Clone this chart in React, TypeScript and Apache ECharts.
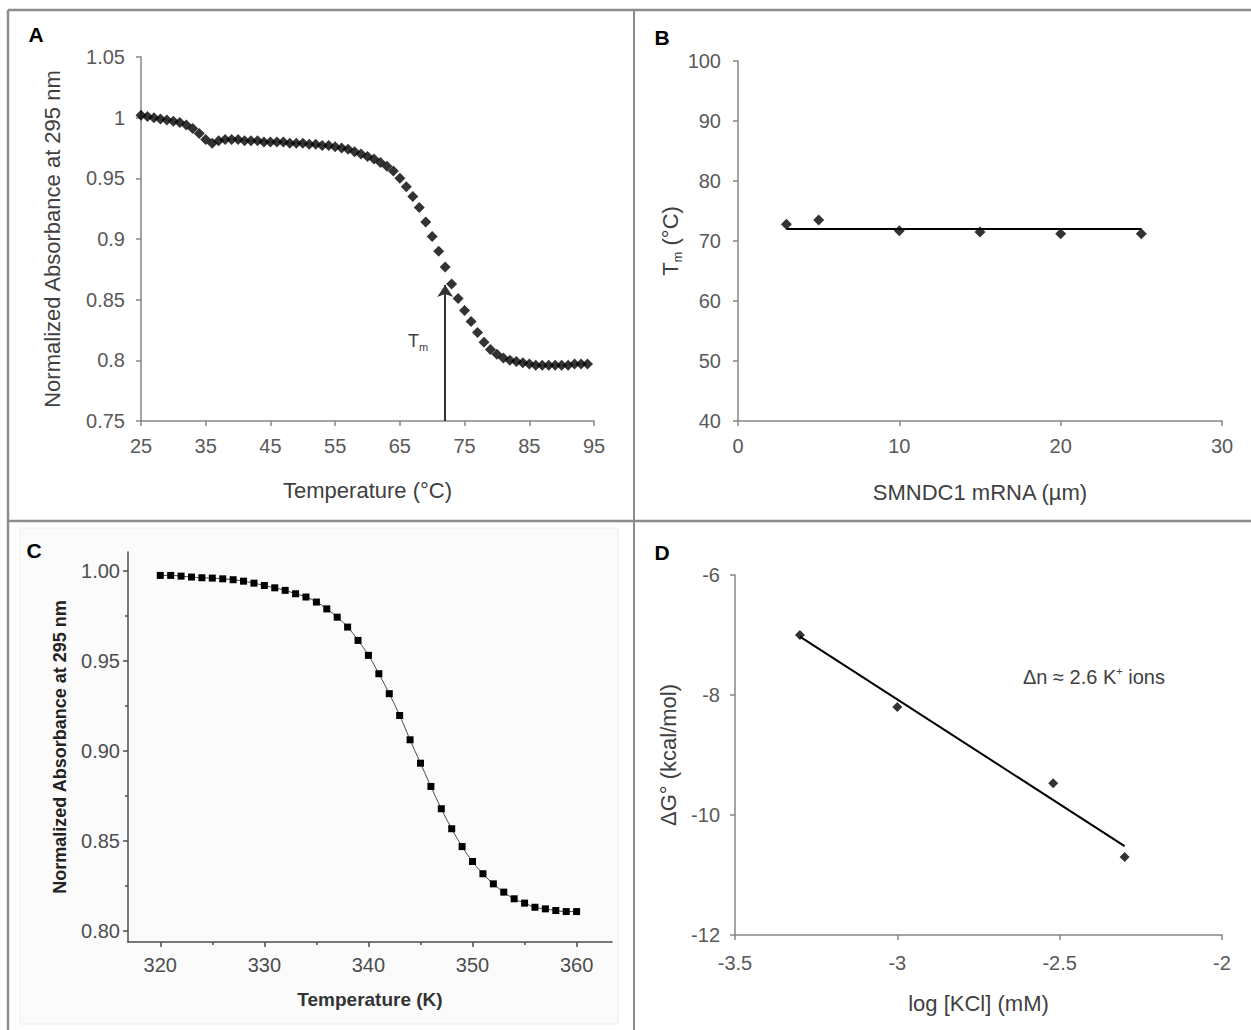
import React, { useEffect, useRef } from 'react';
import * as echarts from 'echarts';

const FONT = 'Arial, "Liberation Sans", Helvetica, sans-serif';

// ---- Panel A: melting curve (°C) ----
const tempA = [25,26,27,28,29,30,31,32,33,34,35,36,37,38,39,40,41,42,43,44,45,46,47,48,49,50,51,52,53,54,55,56,57,58,59,60,61,62,63,64,65,66,67,68,69,70,71,72,73,74,75,76,77,78,79,80,81,82,83,84,85,86,87,88,89,90,91,92,93,94];
const absA = [1.002,1.001,1.0,0.999,0.998,0.997,0.996,0.994,0.991,0.987,0.982,0.979,0.981,0.982,0.982,0.982,0.981,0.981,0.981,0.980,0.980,0.980,0.980,0.979,0.979,0.979,0.978,0.978,0.977,0.977,0.976,0.975,0.974,0.972,0.970,0.968,0.966,0.963,0.960,0.956,0.950,0.943,0.935,0.926,0.914,0.902,0.890,0.877,0.863,0.851,0.841,0.832,0.823,0.815,0.809,0.805,0.802,0.800,0.799,0.798,0.797,0.796,0.796,0.796,0.796,0.796,0.796,0.797,0.797,0.797];
const tmA = 72;
const tmArrowTip = 0.862;

// ---- Panel B: Tm vs mRNA concentration ----
const rnaConc = [3, 5, 10, 15, 20, 25];
const tmB = [72.8, 73.5, 71.7, 71.5, 71.2, 71.2];

// ---- Panel C: melting curve (K) ----
const tempC = [320,321,322,323,324,325,326,327,328,329,330,331,332,333,334,335,336,337,338,339,340,341,342,343,344,345,346,347,348,349,350,351,352,353,354,355,356,357,358,359,360];
const absC = [0.9976,0.9976,0.9972,0.9967,0.9963,0.9961,0.9957,0.9952,0.9944,0.9933,0.992,0.9907,0.9893,0.9874,0.9856,0.9828,0.979,0.9744,0.9689,0.9615,0.9532,0.943,0.9319,0.9198,0.9063,0.8933,0.8804,0.868,0.8569,0.847,0.8387,0.8319,0.8263,0.8217,0.818,0.8156,0.8133,0.8124,0.8115,0.8109,0.8109];
const cMajorX = [320, 330, 340, 350, 360];
const cMinorX = [325, 335, 345, 355];
const cMajorY = [0.8, 0.85, 0.9, 0.95, 1.0];
const cMinorY = [0.825, 0.875, 0.925, 0.975];

// ---- Panel D: ΔG° vs log[KCl] ----
const logKCl = [-3.3, -3.0, -2.52, -2.3];
const dG = [-7.0, -8.2, -9.47, -10.7];

function mean(a: number[]) { return a.reduce((s, v) => s + v, 0) / a.length; }

const excelLabel = { color: '#595959', fontSize: 20, fontFamily: FONT };
const excelLine = { show: true, onZero: false, lineStyle: { color: '#868686', width: 1.5 } };
const excelTick = { show: true, length: 5, lineStyle: { color: '#868686', width: 1.5 } };
const excelName = { color: '#404040', fontSize: 22, fontFamily: FONT };

export default function App() {
  const ref = useRef<HTMLDivElement>(null);
  useEffect(() => {
    if (!ref.current) return;
    const chart = echarts.init(ref.current, null, { renderer: 'svg' });

    const meanB = mean(tmB);
    const mx = mean(logKCl), my = mean(dG);
    let sxy = 0, sxx = 0;
    logKCl.forEach((x, i) => { sxy += (x - mx) * (dG[i] - my); sxx += (x - mx) * (x - mx); });
    const slope = sxy / sxx;
    const icpt = my - slope * mx;
    const xMinD = Math.min(...logKCl), xMaxD = Math.max(...logKCl);

    const fmt2 = (v: number) => String(parseFloat(v.toFixed(2)));

    const option: any = {
      animation: false,
      backgroundColor: '#ffffff',
      textStyle: { fontFamily: FONT },
      grid: [
        { left: 141, top: 57, width: 453, height: 364 },
        { left: 738, top: 61, width: 484, height: 360 },
        { left: 128, top: 552, width: 484, height: 390 },
        { left: 735, top: 575, width: 487, height: 360 },
      ],
      xAxis: [
        {
          gridIndex: 0, type: 'value', min: 25, max: 95, interval: 10,
          axisLine: excelLine, axisTick: excelTick,
          axisLabel: { ...excelLabel, margin: 15 }, splitLine: { show: false },
          name: 'Temperature (°C)', nameLocation: 'middle', nameGap: 58, nameTextStyle: excelName,
        },
        {
          gridIndex: 1, type: 'value', min: 0, max: 30, interval: 10,
          axisLine: excelLine, axisTick: excelTick,
          axisLabel: { ...excelLabel, margin: 15 }, splitLine: { show: false },
          name: 'SMNDC1 mRNA (µm)', nameLocation: 'middle', nameGap: 60, nameTextStyle: excelName,
        },
        {
          gridIndex: 2, type: 'value', min: 316.9, max: 363.4, position: 'bottom',
          axisLine: { show: true, onZero: false, lineStyle: { color: '#4d4d4d', width: 1.5 } },
          axisTick: { show: true, length: 5, customValues: cMajorX, lineStyle: { color: '#4d4d4d', width: 1.5 } },
          axisLabel: { color: '#4d4d4d', fontSize: 20, fontFamily: FONT, margin: 13, customValues: cMajorX },
          splitLine: { show: false },
          name: 'Temperature (K)', nameLocation: 'middle', nameGap: 48,
          nameTextStyle: { color: '#333', fontSize: 19, fontWeight: 'bold', fontFamily: FONT },
        },
        {
          gridIndex: 2, type: 'value', min: 316.9, max: 363.4, position: 'bottom', offset: 0,
          axisLine: { show: false, onZero: false },
          axisTick: { show: true, length: 3, customValues: cMinorX, lineStyle: { color: '#4d4d4d', width: 1.5 } },
          axisLabel: { show: false }, splitLine: { show: false },
        },
        {
          gridIndex: 3, type: 'value', min: -3.5, max: -2, interval: 0.5,
          axisLine: excelLine, axisTick: excelTick,
          axisLabel: { ...excelLabel, margin: 18 }, splitLine: { show: false },
          name: 'log [KCl] (mM)', nameLocation: 'middle', nameGap: 57, nameTextStyle: excelName,
        },
      ],
      yAxis: [
        {
          gridIndex: 0, type: 'value', min: 0.75, max: 1.05, interval: 0.05,
          axisLine: excelLine, axisTick: excelTick,
          axisLabel: { ...excelLabel, margin: 16, formatter: fmt2 }, splitLine: { show: false },
          name: 'Normalized Absorbance at 295 nm', nameLocation: 'middle', nameGap: 78, nameTextStyle: excelName,
        },
        {
          gridIndex: 1, type: 'value', min: 40, max: 100, interval: 10,
          axisLine: excelLine, axisTick: excelTick,
          axisLabel: { ...excelLabel, margin: 17 }, splitLine: { show: false },
          name: '{t|T}{s|m}{t| (°C)}', nameLocation: 'middle', nameGap: 52,
          nameTextStyle: {
            color: '#404040', fontSize: 22, fontFamily: FONT,
            rich: {
              t: { fontSize: 22, color: '#404040', fontFamily: FONT, lineHeight: 26 },
              s: { fontSize: 13, color: '#404040', fontFamily: FONT, verticalAlign: 'bottom', lineHeight: 13 },
            },
          },
        },
        {
          gridIndex: 2, type: 'value', min: 0.794, max: 1.0106, position: 'left',
          axisLine: { show: true, onZero: false, lineStyle: { color: '#4d4d4d', width: 1.5 } },
          axisTick: { show: true, length: 5, customValues: cMajorY, lineStyle: { color: '#4d4d4d', width: 1.5 } },
          axisLabel: {
            color: '#4d4d4d', fontSize: 20, fontFamily: FONT, margin: 8, customValues: cMajorY,
            formatter: (v: number) => v.toFixed(2),
          },
          splitLine: { show: false },
          name: 'Normalized Absorbance at 295 nm', nameLocation: 'middle', nameGap: 59,
          nameTextStyle: { color: '#222', fontSize: 18, fontWeight: 'bold', fontFamily: FONT },
        },
        {
          gridIndex: 2, type: 'value', min: 0.794, max: 1.0106, position: 'left', offset: 0,
          axisLine: { show: false, onZero: false },
          axisTick: { show: true, length: 3, customValues: cMinorY, lineStyle: { color: '#4d4d4d', width: 1.5 } },
          axisLabel: { show: false }, splitLine: { show: false },
        },
        {
          gridIndex: 3, type: 'value', min: -12, max: -6, interval: 2,
          axisLine: excelLine, axisTick: excelTick,
          axisLabel: { ...excelLabel, margin: 15 }, splitLine: { show: false },
          name: 'ΔG° (kcal/mol)', nameLocation: 'middle', nameGap: 56, nameTextStyle: excelName,
        },
      ],
      series: [
        {
          type: 'scatter', xAxisIndex: 0, yAxisIndex: 0,
          data: tempA.map((t, i) => [t, absA[i]]),
          symbol: 'diamond', symbolSize: 11, itemStyle: { color: '#000' },
          markLine: {
            silent: true, symbol: ['none', 'arrow'], symbolSize: 12,
            label: { show: false },
            lineStyle: { color: '#333', width: 2, type: 'solid' },
            data: [[{ coord: [tmA, 0.75] }, { coord: [tmA, tmArrowTip] }]],
          },
        },
        {
          type: 'scatter', xAxisIndex: 1, yAxisIndex: 1,
          data: rnaConc.map((c, i) => [c, tmB[i]]),
          symbol: 'diamond', symbolSize: 11, itemStyle: { color: '#000' },
        },
        {
          type: 'line', xAxisIndex: 1, yAxisIndex: 1,
          data: [[rnaConc[0], meanB], [rnaConc[rnaConc.length - 1], meanB]],
          showSymbol: false, lineStyle: { color: '#000', width: 2 },
        },
        {
          type: 'line', xAxisIndex: 2, yAxisIndex: 2,
          data: tempC.map((t, i) => [t, absC[i]]),
          smooth: true, symbol: 'rect', symbolSize: 7,
          itemStyle: { color: '#000' }, lineStyle: { color: '#444', width: 1 },
        },
        {
          type: 'scatter', xAxisIndex: 4, yAxisIndex: 4,
          data: logKCl.map((x, i) => [x, dG[i]]),
          symbol: 'diamond', symbolSize: 10, itemStyle: { color: '#000' },
        },
        {
          type: 'line', xAxisIndex: 4, yAxisIndex: 4,
          data: [[xMinD, slope * xMinD + icpt], [xMaxD, slope * xMaxD + icpt]],
          showSymbol: false, lineStyle: { color: '#000', width: 2 },
        },
      ],
      graphic: [
        { type: 'rect', z: -10, shape: { x: 20, y: 528, width: 598, height: 496 }, style: { fill: '#fbfbfb', stroke: '#eeeeee', lineWidth: 1 } },
        { type: 'line', shape: { x1: 8, y1: 10, x2: 1251, y2: 10 }, style: { stroke: '#8c8c8c', lineWidth: 2.5 } },
        { type: 'line', shape: { x1: 8, y1: 10, x2: 8, y2: 1030 }, style: { stroke: '#8c8c8c', lineWidth: 2.5 } },
        { type: 'line', shape: { x1: 634, y1: 10, x2: 634, y2: 1030 }, style: { stroke: '#8c8c8c', lineWidth: 2 } },
        { type: 'line', shape: { x1: 8, y1: 521, x2: 1251, y2: 521 }, style: { stroke: '#8c8c8c', lineWidth: 2.5 } },
        { type: 'text', x: 36, y: 34, style: { text: 'A', fontSize: 21, fontWeight: 'bold', fontFamily: FONT, fill: '#000', align: 'center', verticalAlign: 'middle' } },
        { type: 'text', x: 662, y: 37, style: { text: 'B', fontSize: 21, fontWeight: 'bold', fontFamily: FONT, fill: '#000', align: 'center', verticalAlign: 'middle' } },
        { type: 'text', x: 34, y: 550, style: { text: 'C', fontSize: 21, fontWeight: 'bold', fontFamily: FONT, fill: '#000', align: 'center', verticalAlign: 'middle' } },
        { type: 'text', x: 662, y: 552, style: { text: 'D', fontSize: 21, fontWeight: 'bold', fontFamily: FONT, fill: '#000', align: 'center', verticalAlign: 'middle' } },
        {
          type: 'text', x: 408, y: 330,
          style: {
            text: '{t|T}{s|m}', fill: '#404040',
            rich: {
              t: { fontSize: 18, fontFamily: FONT, fill: '#404040', lineHeight: 22 },
              s: { fontSize: 11, fontFamily: FONT, fill: '#404040', verticalAlign: 'bottom', lineHeight: 11 },
            },
          },
        },
        {
          type: 'text', x: 1023, y: 677,
          style: {
            text: '{a|Δn ≈ 2.6 K}{p|+}{a| ions}', fill: '#404040', verticalAlign: 'middle',
            rich: {
              a: { fontSize: 20, fontFamily: FONT, fill: '#404040', lineHeight: 24 },
              p: { fontSize: 11, fontFamily: FONT, fill: '#404040', verticalAlign: 'top', lineHeight: 11 },
            },
          },
        },
      ],
    };
    chart.setOption(option);
    return () => chart.dispose();
  }, []);
  return <div ref={ref} style={{ position: 'absolute', left: 0, top: 0, width: 1251, height: 1030 }} />;
}
